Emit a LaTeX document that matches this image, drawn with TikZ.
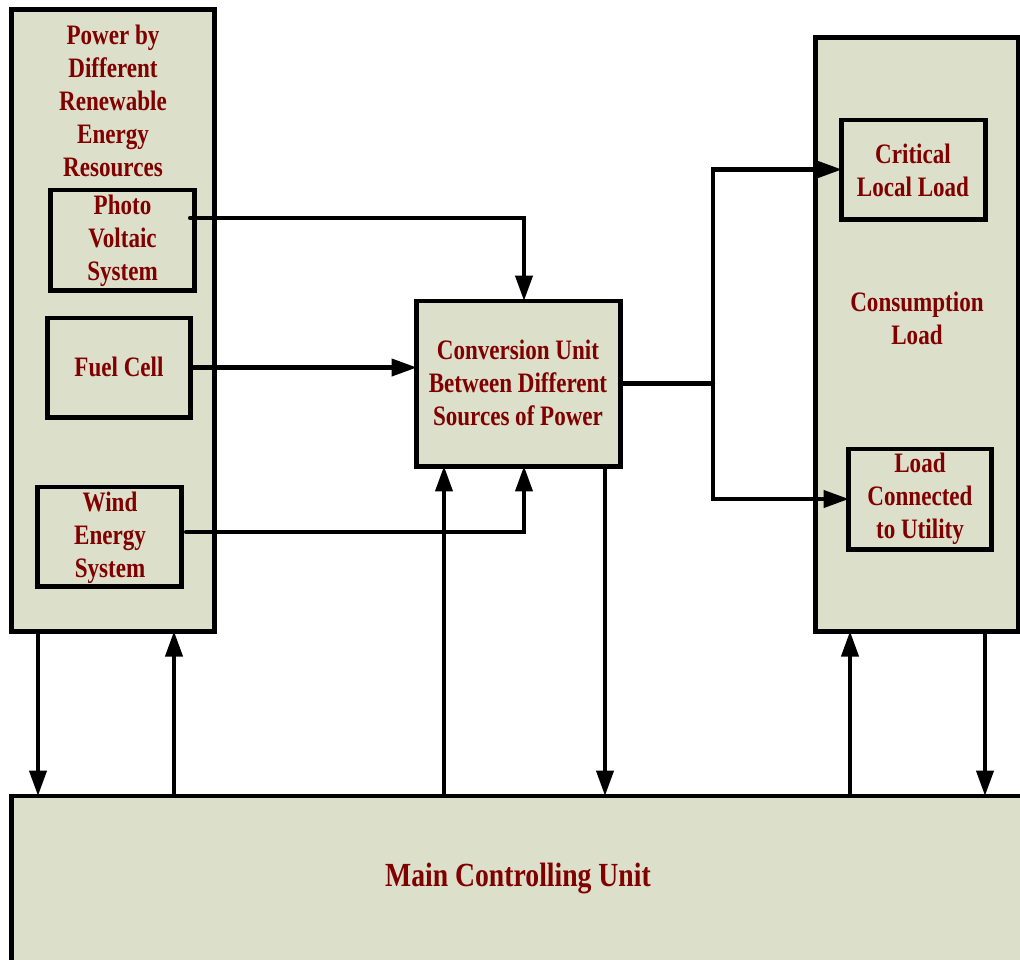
\documentclass[tikz,border=0pt]{standalone}
\usepackage{fontspec}
\setmainfont{Liberation Serif}[FakeStretch=0.82]
\usetikzlibrary{arrows.meta}
\definecolor{boxfill}{RGB}{220,224,203}
\definecolor{txtred}{RGB}{128,0,0}
\tikzset{
  box/.style={draw=black, fill=boxfill, line width=1.4pt, inner sep=0pt, outer sep=0pt, rectangle},
  lbl/.style={text=txtred, font=\bfseries\fontsize{8}{9.4}\selectfont, align=center, inner sep=0pt},
  ln/.style={line width=1.2pt, line cap=round, line join=miter},
  arr/.style={ln, -{Triangle[length=7.2pt,width=4.8pt]}}
}
\begin{document}
\begin{tikzpicture}[x=0.01cm,y=-0.01cm]
\clip (0,0) rectangle (1020,959);
\fill[white] (0,0) rectangle (1020,959);
% big boxes
\node[box, minimum width=2.02cm, minimum height=6.21cm] (left) at (113,320.5) {};
\node[box, minimum width=2.02cm, minimum height=5.93cm] (right) at (917,334.5) {};
\node[box, minimum width=10.18cm, minimum height=1.74cm] (main) at (521,883) {};
\node[lbl] (lefttitle) at (113,101) {Power by\\Different\\Renewable\\Energy\\Resources};
\node[lbl] (righttitle) at (917,318) {Consumption\\Load};
\node[lbl, font=\bfseries\fontsize{9.6}{11}\selectfont] (maintitle) at (518,878) {Main Controlling Unit};
% small boxes
\node[box, minimum width=1.43cm, minimum height=1.0cm] (pv) at (122.5,240) {};
\node[lbl] (pvt) at (122.5,241) {Photo\\Voltaic\\System};
\node[box, minimum width=1.42cm, minimum height=0.99cm] (fuel) at (119,367.5) {};
\node[lbl] (fuelt) at (119,367) {Fuel Cell};
\node[box, minimum width=1.43cm, minimum height=0.99cm] (wind) at (109.5,536.5) {};
\node[lbl] (windt) at (110,538) {Wind\\Energy\\System};
\node[box, minimum width=2.03cm, minimum height=1.65cm] (conv) at (518.5,383.5) {};
\node[lbl] (convt) at (518,383) {Conversion Unit\\Between Different\\Sources of Power};
\node[box, minimum width=1.43cm, minimum height=0.99cm] (crit) at (913.5,169.5) {};
\node[lbl] (critt) at (913,170) {Critical\\Local Load};
\node[box, minimum width=1.42cm, minimum height=1.0cm] (util) at (920,499) {};
\node[lbl] (utilt) at (920,499) {Load\\Connected\\to Utility};
% helper coordinates
\coordinate (x38) at (38,0);
\coordinate (x174) at (174,0);
\coordinate (x444) at (444,0);
\coordinate (x524) at (524,0);
\coordinate (x605) at (605,0);
\coordinate (x850) at (850,0);
\coordinate (x985) at (985,0);
\coordinate (j) at (713,383.5);
% connectors
\draw[arr] ([yshift=0.22cm,xshift=-0.04cm]pv.east) -| (conv.north -| x524);
\draw[arr] (fuel.east) -- (fuel.east -| conv.west);
\draw[arr] ([yshift=0.045cm,xshift=0.05cm]wind.east) -| (conv.south -| x524);
\draw[ln] (conv.east) -- (j);
\draw[arr] (j) |- (crit.west);
\draw[arr] (j) |- (util.west);
\draw[arr] (left.south -| x38) -- (main.north -| x38);
\draw[arr] (main.north -| x174) -- (left.south -| x174);
\draw[arr] (main.north -| x444) -- (conv.south -| x444);
\draw[arr] (conv.south -| x605) -- (main.north -| x605);
\draw[arr] (main.north -| x850) -- (right.south -| x850);
\draw[arr] (right.south -| x985) -- (main.north -| x985);
\end{tikzpicture}
\end{document}
